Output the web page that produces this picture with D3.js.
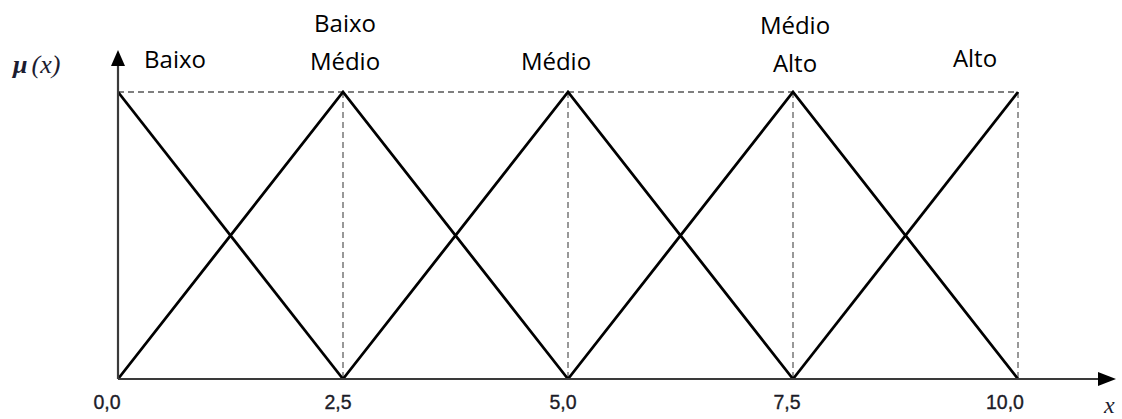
<!DOCTYPE html>
<html>
<head>
<meta charset="utf-8">
<script src="https://cdn.jsdelivr.net/npm/d3@7"></script>
<style>
  body { margin: 0; background: #fff; }
  svg { display: block; }
  .lbl { font-family: "Open Sans", sans-serif; font-size: 24px; fill: #000; }
  .tick-lbl { font-family: "Liberation Sans", Arial, sans-serif; font-size: 19.5px; fill: #1c1c28; stroke: #1c1c28; stroke-width: 0.35px; }
  .axis-name { font-family: "Liberation Serif", "DejaVu Serif", serif; font-style: italic; fill: #1c1c30; }
</style>
</head>
<body>
<div id="graph"></div>
<script>
// membership function names (one or two text lines each)
var categories = [["Baixo"], ["Baixo", "Médio"], ["Médio"], ["Médio", "Alto"], ["Alto"]];
// peak of each triangle
var peaks = [0, 2.5, 5, 7.5, 10];
// triangle vertices [x, mu] per category
var seriesBaixo = [[0, 1], [2.5, 0]];
var seriesBaixoMedio = [[0, 0], [2.5, 1], [5, 0]];
var seriesMedio = [[2.5, 0], [5, 1], [7.5, 0]];
var seriesMedioAlto = [[5, 0], [7.5, 1], [10, 0]];
var seriesAlto = [[7.5, 0], [10, 1]];
var tickValues = [0, 2.5, 5, 7.5, 10];
var tickLabels = ["0,0", "2,5", "5,0", "7,5", "10,0"];

var width = 1122, height = 419;
var margin = {top: 92, right: 104, bottom: 40, left: 118};

var svg = d3.select("#graph").append("svg")
  .attr("width", width)
  .attr("height", height);

var x = d3.scaleLinear().domain([0, 10]).range([margin.left, width - margin.right]);
var y = d3.scaleLinear().domain([0, 1]).range([height - margin.bottom, margin.top]);

// dashed guides
svg.append("line")
  .attr("x1", x(0)).attr("x2", x(10))
  .attr("y1", y(1)).attr("y2", y(1))
  .attr("stroke", "#555").attr("stroke-width", 1.5)
  .attr("stroke-dasharray", "6,4");

svg.selectAll(".guide").data(peaks.slice(1)).enter().append("line")
  .attr("class", "guide")
  .attr("x1", function(d) { return x(d); }).attr("x2", function(d) { return x(d); })
  .attr("y1", y(1)).attr("y2", y(0))
  .attr("stroke", "#777").attr("stroke-width", 1.5)
  .attr("stroke-dasharray", "6,4");

// triangles
var line = d3.line()
  .x(function(d) { return x(d[0]); })
  .y(function(d) { return y(d[1]); });

var allSeries = [seriesBaixo, seriesBaixoMedio, seriesMedio, seriesMedioAlto, seriesAlto];
svg.selectAll(".mf").data(allSeries).enter().append("path")
  .attr("class", "mf")
  .attr("d", line)
  .attr("fill", "none")
  .attr("stroke", "#000")
  .attr("stroke-width", 2.8)
  .attr("stroke-linejoin", "miter");

// axes with arrow heads
var axisColor = "#3a3a3a";
svg.append("line")
  .attr("x1", x(0)).attr("x2", 1100)
  .attr("y1", y(0)).attr("y2", y(0))
  .attr("stroke", axisColor).attr("stroke-width", 2.2);
svg.append("path")
  .attr("d", "M1098," + (y(0) - 7) + "L1116," + y(0) + "L1098," + (y(0) + 7) + "Z")
  .attr("fill", "#000");

svg.append("line")
  .attr("x1", x(0)).attr("x2", x(0))
  .attr("y1", y(0)).attr("y2", 64)
  .attr("stroke", axisColor).attr("stroke-width", 2.2);
svg.append("path")
  .attr("d", "M" + (x(0) - 7) + ",66L" + x(0) + ",50L" + (x(0) + 7) + ",66Z")
  .attr("fill", "#000");

// tick labels
var tickShift = [-11, -5, -5, -6, -13];
svg.selectAll(".tick-lbl").data(tickValues).enter().append("text")
  .attr("class", "tick-lbl")
  .attr("x", function(d, i) { return x(d) + tickShift[i]; })
  .attr("y", 409)
  .attr("text-anchor", "middle")
  .text(function(d, i) { return tickLabels[i]; });

// axis names
var mu = svg.append("text").attr("class", "axis-name")
  .attr("x", 13).attr("y", 73)
  .style("font-size", "26px");
mu.append("tspan").style("font-weight", "bold").text("μ");
mu.append("tspan").attr("dx", 4).text("(x)");
svg.append("text").attr("class", "axis-name")
  .attr("x", 1104).attr("y", 413)
  .style("font-size", "24px")
  .text("x");

// category labels: horizontal shift from peak (px) and baseline of last line
var labelShift = [57, 2, -12, 2, -43];
var labelBase = [68, 70, 70, 72, 67];
var lineGap = 38;

var lbl = svg.selectAll(".lbl").data(categories).enter().append("text")
  .attr("class", "lbl")
  .attr("text-anchor", "middle");
lbl.each(function(d, i) {
  var t = d3.select(this);
  d.forEach(function(s, j) {
    t.append("tspan")
      .attr("x", x(peaks[i]) + labelShift[i])
      .attr("y", labelBase[i] - (d.length - 1 - j) * lineGap)
      .text(s);
  });
});
</script>
</body>
</html>
